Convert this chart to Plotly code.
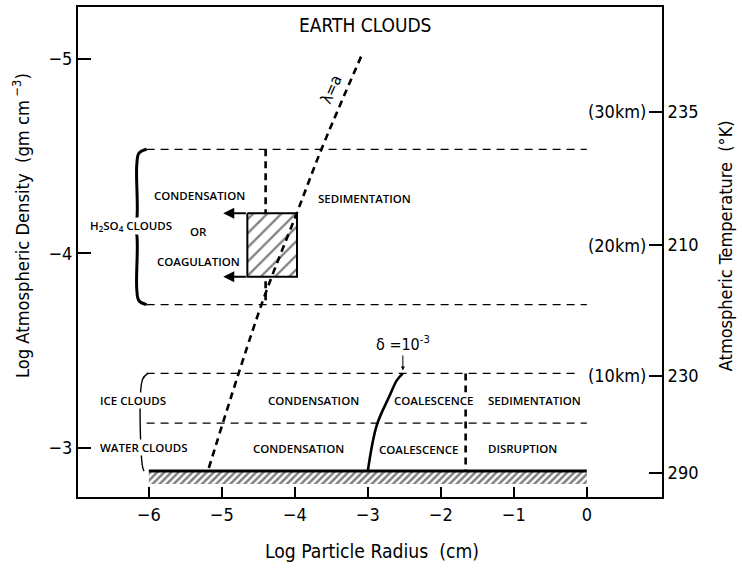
import plotly.graph_objects as go

# ---- data -------------------------------------------------------------
# log particle radius (cm) range covered by the diagram
radius_min, radius_max = -6.0, 0.0

# log atmospheric density (gm cm^-3) of the region boundaries
h2so4_top, h2so4_bottom = -4.535, -3.737
ice_top = -3.384
ice_water_boundary = -3.128
ground_level = -2.882
ground_hatch_depth = 0.066

# condensation / sedimentation divide in the H2SO4 layer and the
# coalescence / sedimentation divide in the tropospheric layer
h2so4_divide_radius = -4.40
tropo_divide_radius = -1.66

# observed H2SO4 cloud particle box
box_radius = [-4.65, -3.97]
box_density = [-4.207, -3.880]

# lambda = a curve
lambda_radius = [-5.178, -4.452, -3.973, -3.630, -3.082]
lambda_density = [-2.898, -3.742, -4.207, -4.540, -5.020]

# delta = 1e-3 curve
delta_radius = [-3.00, -2.877, -2.70, -2.603, -2.52]
delta_density = [-2.882, -3.118, -3.27, -3.348, -3.384]

# right-hand temperature scale with altitude markers
temp_tick_density = [-4.729, -4.043, -3.373, -2.872]
temp_labels = ["235", "210", "230", "290"]
altitude_labels = ["(30km)", "(20km)", "(10km)", ""]

x_ticks = [-6, -5, -4, -3, -2, -1, 0]
y_ticks = [-5, -4, -3]

# ---- styling ----------------------------------------------------------
NARROW = "'Liberation Sans Narrow', 'DejaVu Sans Condensed', 'Arial Narrow', sans-serif"
LABEL = "'Open Sans', 'DejaVu Sans', sans-serif"
X_RANGE = [-6.97, 1.03]
Y_RANGE = [-2.749, -5.266]  # reversed: denser air at the bottom

fig = go.Figure()

thin_dash = dict(color="black", width=1.3, dash="8px,6px")
thick_dash = dict(color="black", width=2.6, dash="7px,5px")


def line(xs, ys, style, **kw):
    fig.add_trace(go.Scatter(x=xs, y=ys, mode="lines", line=style,
                             hoverinfo="skip", showlegend=False, **kw))


# horizontal region boundaries
line([radius_min - 0.03, radius_max], [h2so4_top] * 2, thin_dash)
line([radius_min - 0.03, radius_max], [h2so4_bottom] * 2, thin_dash)
line([radius_min - 0.03, radius_max - 0.14], [ice_top] * 2, thin_dash)
line([radius_min - 0.03, radius_max], [ice_water_boundary] * 2, thin_dash)

# vertical regime divides
line([h2so4_divide_radius] * 2, [h2so4_top, h2so4_bottom], thick_dash)
line([tropo_divide_radius] * 2, [ice_top, ground_level], thick_dash)

# hatched ground strip
gx = [radius_min, radius_max, radius_max, radius_min, radius_min]
gy = [ground_level, ground_level, ground_level + ground_hatch_depth,
      ground_level + ground_hatch_depth, ground_level]
fig.add_trace(go.Scatter(x=gx, y=gy, mode="none", fill="toself",
                         fillcolor="rgba(0,0,0,0)",
                         fillpattern=dict(shape="/", size=5, solidity=0.5,
                                          fgcolor="black", bgcolor="white"),
                         hoverinfo="skip", showlegend=False))
line([radius_min, radius_max], [ground_level] * 2, dict(color="black", width=3))

# hatched particle box
bx = [box_radius[0], box_radius[1], box_radius[1], box_radius[0], box_radius[0]]
by = [box_density[0], box_density[0], box_density[1], box_density[1], box_density[0]]
fig.add_trace(go.Scatter(x=bx, y=by, mode="lines", fill="toself",
                         line=dict(color="black", width=2),
                         fillcolor="rgba(0,0,0,0)",
                         fillpattern=dict(shape="/", size=10, solidity=0.22,
                                          fgcolor="black", bgcolor="white"),
                         hoverinfo="skip", showlegend=False))

# lambda = a and delta = 1e-3 curves
line(lambda_radius, lambda_density, dict(thick_dash, shape="spline"))
line(delta_radius, delta_density, dict(color="black", width=2.6, shape="spline"))

# curly bracket grouping the H2SO4 layer
bk = radius_min - 0.165
mid = (h2so4_top + h2so4_bottom) / 2
line([radius_min - 0.03, bk + 0.03, bk, bk, bk - 0.04, bk, bk, bk + 0.03, radius_min - 0.03],
     [h2so4_top, h2so4_top + 0.02, h2so4_top + 0.08, mid - 0.04, mid, mid + 0.04,
      h2so4_bottom - 0.08, h2so4_bottom - 0.02, h2so4_bottom],
     dict(color="black", width=3, shape="spline"))

# bracket grouping ice and water clouds
bk2 = radius_min - 0.085
line([radius_min - 0.01, bk2, bk2, bk2 + 0.02],
     [ice_top, ice_top + 0.03, ground_level - 0.02, ground_level],
     dict(color="black", width=1.4, shape="spline"))

# invisible trace so the right-hand temperature axis is drawn
fig.add_trace(go.Scatter(x=[radius_min], y=[temp_tick_density[0]], yaxis="y2",
                         mode="markers", marker=dict(opacity=0),
                         hoverinfo="skip", showlegend=False))

# ---- text -------------------------------------------------------------
ann = []
region_labels = [
    ("CONDENSATION", -5.30, -4.30),
    ("OR", -5.32, -4.115),
    ("COAGULATION", -5.32, -3.96),
    ("H<sub>2</sub>SO<sub>4</sub> CLOUDS", -6.25, -4.14),
    ("SEDIMENTATION", -3.04, -4.28),
    ("ICE CLOUDS", -6.21, -3.245),
    ("WATER CLOUDS", -6.07, -3.005),
    ("CONDENSATION", -3.74, -3.245),
    ("COALESCENCE", -2.10, -3.245),
    ("SEDIMENTATION", -0.71, -3.245),
    ("CONDENSATION", -3.95, -3.0),
    ("COALESCENCE", -2.30, -2.995),
    ("DISRUPTION", -0.88, -3.0),
]
for text, x, y in region_labels:
    ann.append(dict(x=x, y=y, text=text, showarrow=False, bgcolor="white",
                    borderpad=0,
                    font=dict(family=LABEL, size=11.5, color="black", weight=600)))

# arrows from the particle box toward smaller radii
for yv in box_density:
    ann.append(dict(x=box_radius[0] - 0.33, y=yv, ax=box_radius[0], ay=yv,
                    xref="x", yref="y", axref="x", ayref="y", text="",
                    showarrow=True, arrowhead=2, arrowsize=1.1, arrowwidth=2,
                    arrowcolor="black"))

# curve labels
ann.append(dict(x=-3.50, y=-4.84, text="λ=a", showarrow=False,
                textangle=-66, font=dict(family=NARROW, size=16, color="black")))
ann.append(dict(x=delta_radius[-1], y=delta_density[-1], text="δ =10<sup>-3</sup>",
                showarrow=True, arrowhead=2, arrowsize=0.8, arrowwidth=1,
                arrowcolor="black", ax=0, ay=-30, standoff=3,
                font=dict(family=NARROW, size=16, color="black")))

# altitude markers beside the temperature ticks
for yv, lab in zip(temp_tick_density, altitude_labels):
    if lab:
        ann.append(dict(x=1, xref="paper", y=yv, yref="y", text=lab,
                        xanchor="right", xshift=-15, showarrow=False,
                        bgcolor="white", borderpad=0,
                        font=dict(family=NARROW, size=18, color="black")))

# titles
ann.append(dict(x=0.491, y=0.963, xref="paper", yref="paper", text="EARTH CLOUDS",
                xanchor="center", yanchor="middle", showarrow=False,
                font=dict(family=NARROW, size=19, color="black")))
ann.append(dict(x=-0.0976, y=0.553, xref="paper", yref="paper", textangle=-90,
                xanchor="center", yanchor="middle",
                text="Log Atmospheric Density  (gm cm<sup> −3</sup>)", showarrow=False,
                font=dict(family=NARROW, size=18.2, color="black")))
ann.append(dict(x=1.108, y=0.512, xref="paper", yref="paper", textangle=-90,
                xanchor="center", yanchor="middle",
                text="Atmospheric Temperature  (°K)", showarrow=False,
                font=dict(family=NARROW, size=18, color="black")))
ann.append(dict(x=0.503, y=-0.112, xref="paper", yref="paper",
                xanchor="center", yanchor="middle",
                text="Log Particle Radius  (cm)", showarrow=False,
                font=dict(family=NARROW, size=19.2, color="black")))

tick_font = dict(family=NARROW, size=18, color="black")
fig.update_layout(
    width=742, height=569,
    margin=dict(l=78, r=80, t=5, b=72),
    plot_bgcolor="white", paper_bgcolor="white",
    annotations=ann,
    xaxis=dict(range=X_RANGE, tickvals=x_ticks,
               ticktext=[("−" + str(-v)) if v < 0 else str(v) for v in x_ticks],
               ticks="inside", ticklen=10, tickwidth=1.5, tickcolor="black",
               showline=True, linecolor="black", linewidth=2, mirror=True,
               showgrid=False, zeroline=False, tickfont=tick_font),
    yaxis=dict(range=Y_RANGE, tickvals=y_ticks,
               ticktext=["−" + str(-v) for v in y_ticks],
               ticks="inside", ticklen=13, tickwidth=1.5, tickcolor="black",
               showline=True, linecolor="black", linewidth=2,
               showgrid=False, zeroline=False, tickfont=tick_font),
    yaxis2=dict(range=Y_RANGE, overlaying="y", side="right",
                tickvals=temp_tick_density, ticktext=temp_labels,
                ticks="inside", ticklen=13, tickwidth=1.5, tickcolor="black",
                showline=True, linecolor="black", linewidth=2,
                showgrid=False, zeroline=False, tickfont=tick_font),
)

fig.write_html("out.html")
